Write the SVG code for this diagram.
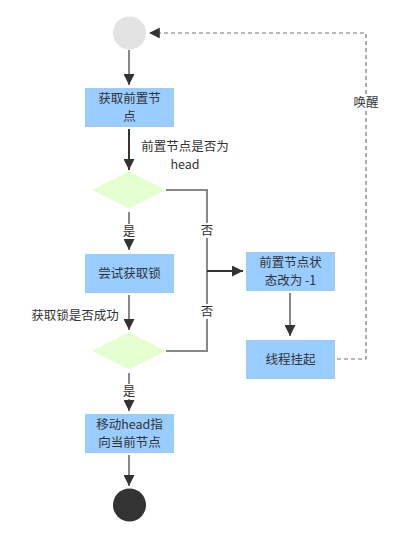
<svg xmlns="http://www.w3.org/2000/svg" width="420" height="543" viewBox="0 0 420 543">
<defs>
<style>
text{font-family:"Noto Sans CJK SC","Liberation Sans",sans-serif;font-size:12.5px;fill:#333;text-anchor:middle}
.box{fill:#99CCFF}
.dia{fill:#E5FFD0}
.ln{fill:none;stroke:#888;stroke-width:2}
.dk{fill:none;stroke:#333;stroke-width:2}
.dash{fill:none;stroke:#777;stroke-width:1.2;stroke-dasharray:4,3}
.bg{fill:#fff}
</style>
<marker id="ah" viewBox="0 0 10 10" refX="10" refY="5" markerWidth="5.5" markerHeight="5.5" orient="auto" markerUnits="strokeWidth">
<path d="M0,0 L10,5 L0,10 Z" fill="#333"/>
</marker>
<marker id="ahs" viewBox="0 0 10 10" refX="10" refY="5" markerWidth="9" markerHeight="9" orient="auto" markerUnits="strokeWidth">
<path d="M0,0 L10,5 L0,10 Z" fill="#333"/>
</marker>
</defs>
<g id="connectors">
<path class="ln" d="M129,50 V85" marker-end="url(#ah)"/>
<path class="dk" d="M129,129 V170" marker-end="url(#ah)"/>
<path class="ln" d="M129,212 V250" marker-end="url(#ah)"/>
<rect class="bg" x="121" y="224" width="16" height="15"/>
<text x="129" y="236">是</text>
<path class="ln" d="M166,190 H207 V351 H166"/>
<path class="dk" d="M207,271 H243" marker-end="url(#ah)"/>
<rect class="bg" x="199" y="223" width="16" height="15"/>
<text x="207" y="235">否</text>
<rect class="bg" x="199" y="304" width="16" height="15"/>
<text x="207" y="316">否</text>
<path class="ln" d="M129,295 V330" marker-end="url(#ah)"/>
<text x="75" y="320">获取锁是否成功</text>
<path class="ln" d="M290,293 V336" marker-end="url(#ah)"/>
<path class="ln" d="M129,373 V411" marker-end="url(#ah)"/>
<rect class="bg" x="121" y="384" width="16" height="15"/>
<text x="129" y="396">是</text>
<path class="ln" d="M129,455 V486" marker-end="url(#ah)"/>
<path class="dash" d="M337,359 H366 V33 H149" marker-end="url(#ahs)"/>
<rect class="bg" x="351" y="94" width="30" height="16"/>
<text x="366" y="107">唤醒</text>
<text x="185" y="151">前置节点是否为</text>
<text x="185" y="169">head</text>
</g>
<g id="start"><circle cx="129.5" cy="33" r="16.5" fill="#E3E3E3"/></g>
<g id="n1"><rect class="box" x="85" y="88" width="89" height="39"/><text x="129.5" y="103">获取前置节</text><text x="129.5" y="121">点</text></g>
<g id="d1"><polygon class="dia" points="92,190 129,171.5 166,190 129,208.5"/></g>
<g id="n2"><rect class="box" x="85" y="254" width="89" height="39"/><text x="129.5" y="278">尝试获取锁</text></g>
<g id="d2"><polygon class="dia" points="92,351 129,332.5 166,351 129,369.5"/></g>
<g id="n3"><rect class="box" x="246" y="252" width="89" height="39"/><text x="290.5" y="267">前置节点状</text><text x="290.5" y="285">态改为 -1</text></g>
<g id="n4"><rect class="box" x="246" y="340" width="89" height="39"/><text x="290.5" y="364">线程挂起</text></g>
<g id="n5"><rect class="box" x="85" y="414" width="89" height="39"/><text x="129.5" y="429">移动head指</text><text x="129.5" y="447">向当前节点</text></g>
<g id="end"><circle cx="129.5" cy="505" r="16.5" fill="#333"/></g>
</svg>
